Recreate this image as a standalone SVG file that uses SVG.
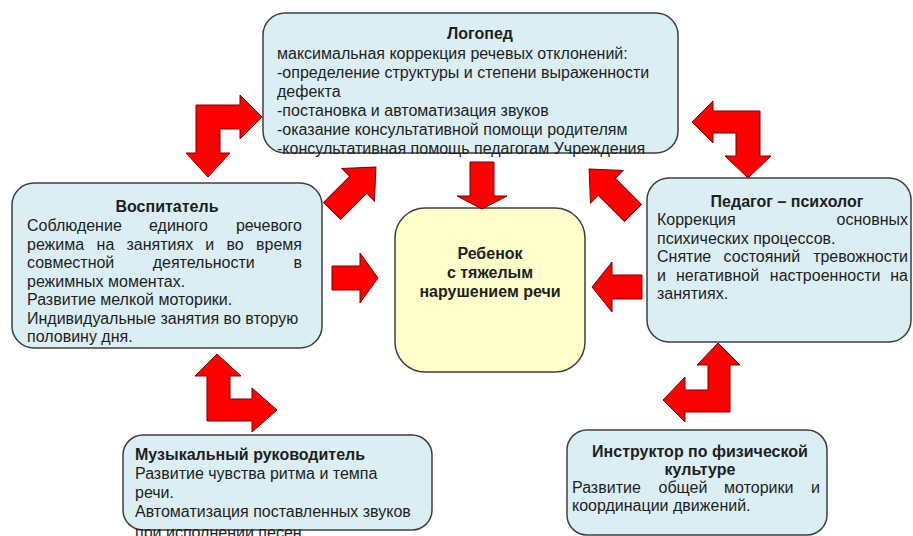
<svg xmlns="http://www.w3.org/2000/svg" width="913" height="536" viewBox="0 0 913 536">
<style>
.box{fill:#DAEEF3;stroke:#3f3f3f;stroke-width:1.5}
.child{fill:#FFFFCC;stroke:#3f3f3f;stroke-width:1.5}
.t{font-family:"Liberation Sans",Arial,sans-serif;font-size:16px;fill:#1e1e1e}
.b{font-weight:bold}
.m{text-anchor:middle}
.e{text-anchor:end}
.arr{fill:#FF0000;stroke:#7a0000;stroke-width:1;stroke-linejoin:miter}
</style>
<defs>
<polygon id="diag" points="31,0 6,-23 6,-12 -31,-12 -31,12 6,12 6,23"/>
</defs>
<rect width="913" height="536" fill="#ffffff"/>

<g id="node-logoped">
<rect class="box" x="263" y="13" width="415" height="140" rx="22"/>
<text class="t b m" x="480" y="39">Логопед</text>
<text class="t" x="277" y="59">максимальная коррекция речевых отклонений:</text>
<text class="t" x="277" y="78">-определение структуры и степени выраженности</text>
<text class="t" x="277" y="97">дефекта</text>
<text class="t" x="277" y="116">-постановка и автоматизация звуков</text>
<text class="t" x="277" y="135">-оказание консультативной помощи родителям</text>
<text class="t" x="277" y="154">-консультативная помощь педагогам Учреждения</text>
</g>

<g id="node-vospitatel">
<rect class="box" x="12" y="183" width="310" height="165" rx="22"/>
<text class="t b m" x="167" y="212">Воспитатель</text>
<text class="t" y="231"><tspan x="27">Соблюдение</tspan><tspan x="149">единого</tspan></text>
<text class="t e" x="302" y="231">речевого</text>
<text class="t" y="249.5"><tspan x="27">режима</tspan><tspan x="96.6">на</tspan><tspan x="126.5">занятиях</tspan><tspan x="205.3">и</tspan><tspan x="226.5">во</tspan></text>
<text class="t e" x="302" y="249.5">время</text>
<text class="t" y="268"><tspan x="27">совместной</tspan><tspan x="152.7">деятельности</tspan></text>
<text class="t e" x="302" y="268">в</text>
<text class="t" x="27" y="286.5">режимных моментах.</text>
<text class="t" x="27" y="305">Развитие мелкой моторики.</text>
<text class="t" x="27" y="323.5">Индивидуальные занятия во вторую</text>
<text class="t" x="27" y="342">половину дня.</text>
</g>

<g id="node-psiholog">
<rect class="box" x="647" y="178" width="264" height="164" rx="22"/>
<text class="t b m" x="787" y="207">Педагог – психолог</text>
<text class="t" x="657" y="225">Коррекция</text>
<text class="t e" x="908" y="225">основных</text>
<text class="t" x="657" y="243.5">психических процессов.</text>
<text class="t" y="262"><tspan x="657">Снятие</tspan><tspan x="723.6">состояний</tspan></text>
<text class="t e" x="908" y="262">тревожности</text>
<text class="t" y="280.5"><tspan x="657">и</tspan><tspan x="675.9">негативной</tspan><tspan x="769.8">настроенности</tspan></text>
<text class="t e" x="908" y="280.5">на</text>
<text class="t" x="657" y="299">занятиях.</text>
</g>

<g id="node-child">
<rect class="child" x="395" y="208" width="190" height="164" rx="30"/>
<text class="t b m" x="490" y="259">Ребенок</text>
<text class="t b m" x="490" y="278">с тяжелым</text>
<text class="t b m" x="490" y="297">нарушением речи</text>
</g>

<g id="node-music">
<rect class="box" x="123" y="435" width="309" height="95" rx="20"/>
<text class="t b" x="135" y="460">Музыкальный руководитель</text>
<text class="t" x="135" y="479">Развитие чувства ритма и темпа</text>
<text class="t" x="135" y="498">речи.</text>
<text class="t" x="135" y="517">Автоматизация поставленных звуков</text>
<text class="t" x="135" y="538">при исполнении песен.</text>
</g>

<g id="node-fizo">
<rect class="box" x="567" y="430" width="260" height="105" rx="20"/>
<text class="t b m" x="700" y="457">Инструктор по физической</text>
<text class="t b m" x="700" y="475">культуре</text>
<text class="t" y="493"><tspan x="572">Развитие</tspan><tspan x="658.5">общей</tspan><tspan x="724.1">моторики</tspan></text>
<text class="t e" x="820" y="493">и</text>
<text class="t" x="572" y="511">координации движений.</text>
</g>

<g id="connectors">
<polygon class="arr" points="196,105 240,105 240,95 262,117 240,139 240,129 220,129 220,153 230,153 208,177 186,153 196,153"/>
<polygon class="arr" points="692,122 713,101 713,111 760,111 760,156 771,156 748,178 725,156 736,156 736,133 713,133 713,143"/>
<polygon class="arr" points="217,354 241,376 230,376 230,399 252,399 252,388 277,410 252,432 252,421 207,421 207,376 195,376"/>
<polygon class="arr" points="718,343 740,365 730,365 730,412 685,412 685,422 663,400 685,377 685,390 708,390 708,365 697,365"/>
<polygon class="arr" points="470,162 494,162 494,196 507,196 482,209 457,196 470,196"/>
<polygon class="arr" points="332,266 360,266 360,253 378,278 360,303 360,290 332,290"/>
<polygon class="arr" points="642,275 612,275 612,262 592,287 612,312 612,299 642,299"/>
<use class="arr" href="#diag" transform="translate(354,189) rotate(-45)"/>
<use class="arr" href="#diag" transform="translate(611,191) rotate(-135)"/>
</g>
</svg>
